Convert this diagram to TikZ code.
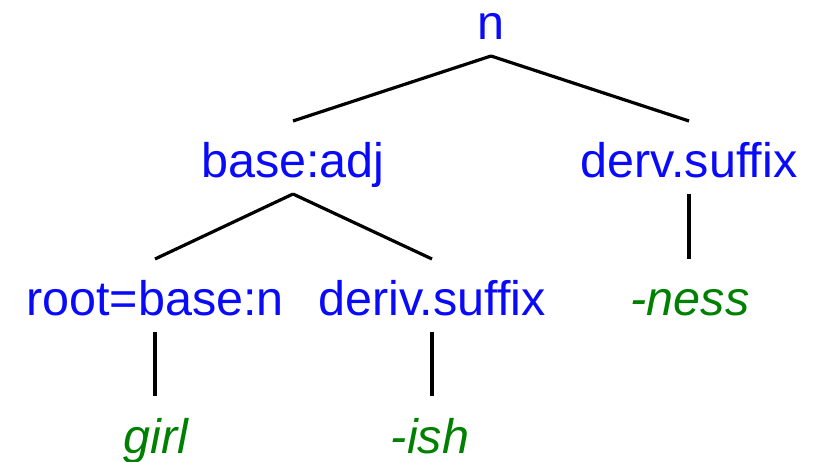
\documentclass[tikz,border=0pt]{standalone}
\usepackage{fontspec}
\setmainfont{Liberation Sans}
\definecolor{catblue}{RGB}{10,10,250}
\definecolor{formgreen}{RGB}{0,128,0}
\begin{document}
\begin{tikzpicture}[x=1pt,y=-1pt,
  cat/.style={text=catblue, font=\fontsize{48.5}{58}\selectfont, anchor=base,
    inner sep=0pt, outer sep=0pt, text height=57pt, text depth=16pt},
  form/.style={cat, text=formgreen, font=\fontsize{48.5}{58}\selectfont\itshape},
  branch/.style={draw=black, line width=3.2pt}]
\useasboundingbox (0,0) rectangle (817,462);
% category labels
\node[cat] (n)    at (491,40)  {n};
\node[cat] (badj) at (293,178) {base:adj};
\node[cat] (dsuf) at (689,178) {derv.suffix};
\node[cat] (root) at (155,316) {root=base:n};
\node[cat] (isuf) at (432,316) {deriv.suffix};
% word forms
\node[form] (ness) at (690,316) {-ness};
\node[form] (girl) at (156,453) {girl};
\node[form] (ish)  at (430,453) {-ish};
% branches
\draw[branch] (n.south) -- (badj.north);
\draw[branch] (n.south) -- (dsuf.north);
\draw[branch] (badj.south) -- (root.north);
\draw[branch] (badj.south) -- (isuf.north);
\draw[branch] (dsuf.south) -- (dsuf.south |- ness.north);
\draw[branch] (root.south) -- (root.south |- girl.north);
\draw[branch] (isuf.south) -- (isuf.south |- ish.north);
\end{tikzpicture}
\end{document}
